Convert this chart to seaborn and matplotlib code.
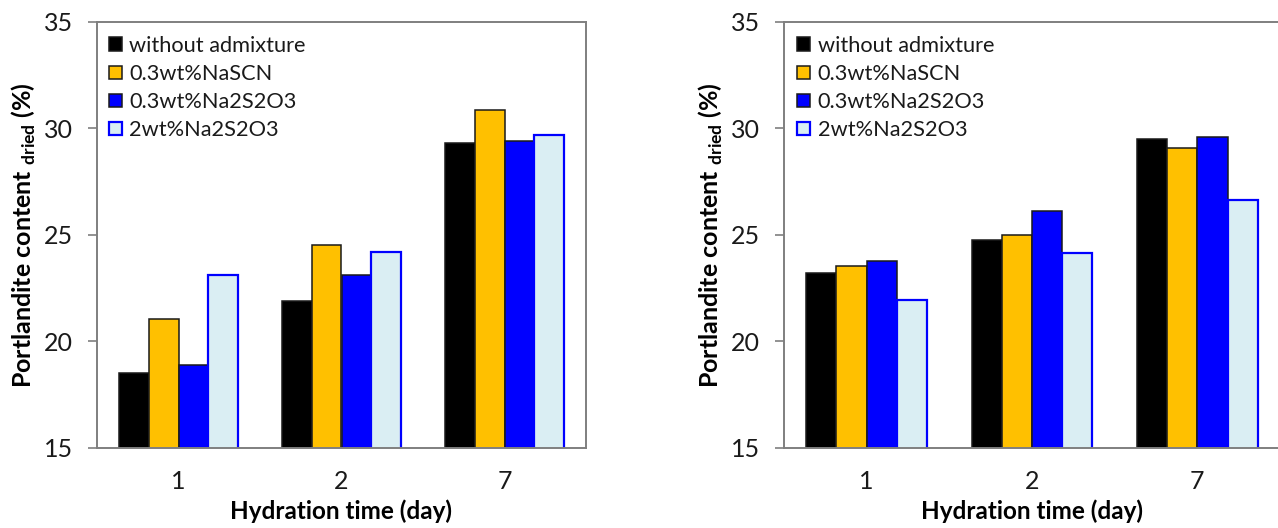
import matplotlib
matplotlib.use("Agg")
import matplotlib.pyplot as plt
import seaborn as sns
import pandas as pd

days = ["1", "2", "7"]
series = ["without admixture", "0.3wt%NaSCN", "0.3wt%Na2S2O3", "2wt%Na2S2O3"]
left_vals = {
    "without admixture": [18.5, 21.9, 29.3],
    "0.3wt%NaSCN": [21.05, 24.5, 30.85],
    "0.3wt%Na2S2O3": [18.9, 23.1, 29.4],
    "2wt%Na2S2O3": [23.1, 24.2, 29.7],
}
right_vals = {
    "without admixture": [23.2, 24.75, 29.5],
    "0.3wt%NaSCN": [23.55, 25.0, 29.1],
    "0.3wt%Na2S2O3": [23.75, 26.1, 29.6],
    "2wt%Na2S2O3": [21.95, 24.15, 26.65],
}
yticks = [15, 20, 25, 30, 35]

colors = ["#000000", "#FFC000", "#0000FF", "#DAEEF3"]
edges = ["#1a1a1a", "#1a1a1a", "#1a1a1a", "#0000FF"]

sns.set_theme(style="white")
plt.rcParams["font.family"] = ["Lato", "DejaVu Sans"]
plt.rcParams["mathtext.fontset"] = "custom"
plt.rcParams["mathtext.rm"] = "Lato:bold"
plt.rcParams["mathtext.bf"] = "Lato:bold"

fig = plt.figure(figsize=(12.78, 5.28), dpi=100)
axL = fig.add_axes([97/1278, 80.3/528, 489/1278, 425.7/528])
axR = fig.add_axes([784/1278, 80.3/528, 496/1278, 425.7/528])


def make_df(vals):
    rows = []
    for s in series:
        for d, v in zip(days, vals[s]):
            rows.append({"day": d, "series": s, "value": v})
    return pd.DataFrame(rows)


for ax, vals, legx in [(axL, left_vals, 0.024), (axR, right_vals, 0.026)]:
    df = make_df(vals)
    sns.barplot(data=df, x="day", y="value", hue="series", order=days,
                hue_order=series, palette=colors, width=0.73, ax=ax,
                errorbar=None, saturation=1, legend=True)
    for cont, ec in zip(ax.containers, edges):
        for p in cont:
            p.set_edgecolor(ec)
            p.set_linewidth(1.6 if ec == "#0000FF" else 1.1)
    ax.set_ylim(15, 35)
    ax.set_xlim(-0.5, 2.5)
    ax.set_yticks(yticks)
    ax.set_yticklabels([str(t) for t in yticks])
    for sp in ax.spines.values():
        sp.set_color("#7f7f7f")
        sp.set_linewidth(1.4)
    ax.tick_params(axis="y", left=True, length=6.5, width=1.2, color="#7f7f7f",
                   pad=11, labelsize=18, labelcolor="#1a1a1a")
    ax.tick_params(axis="x", bottom=False, length=0, pad=16, labelsize=18,
                   labelcolor="#1a1a1a")
    ax.set_xlabel("Hydration time (day)", fontsize=17.5, fontweight="bold",
                  labelpad=5, color="#000000")
    ax.set_ylabel(r"Portlandite content $_{\mathrm{dried}}$ (%)", fontsize=18,
                  fontweight="bold", labelpad=4, color="#000000")
    handles, labels = ax.get_legend_handles_labels()
    leg = ax.legend(handles, labels, loc="upper left",
                    bbox_to_anchor=(legx, 0.967), frameon=False, borderpad=0,
                    borderaxespad=0, fontsize=15.7, handlelength=0.6,
                    handleheight=0.6, handletextpad=0.35, labelspacing=0.37)
    for h, ec in zip(leg.legend_handles, edges):
        h.set_edgecolor(ec)
        h.set_linewidth(1.6 if ec == "#0000FF" else 1.1)
    for t in leg.get_texts():
        t.set_color("#1a1a1a")

fig.savefig("out.png", dpi=100)
